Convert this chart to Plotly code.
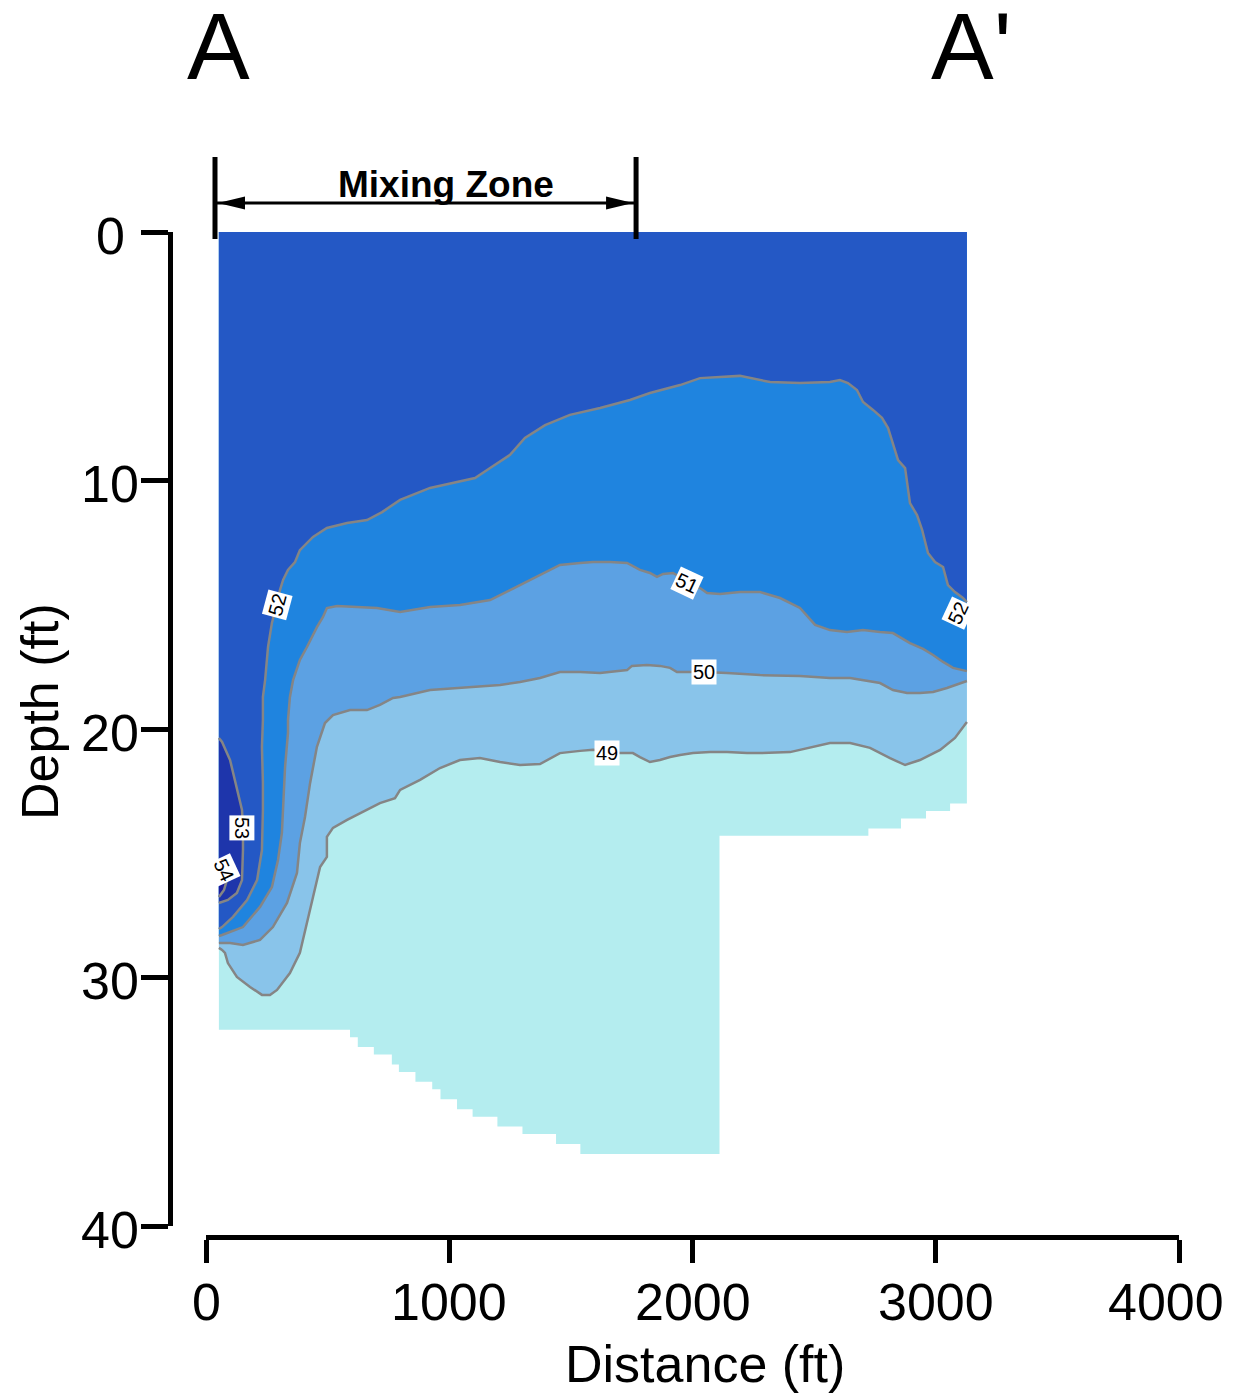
import plotly.graph_objects as go

# ---------------- data (distance ft, depth ft) ----------------
SECTION_LEFT = 53
SECTION_RIGHT = 3128

BOTTOM_X = [53, 592, 624, 690, 764, 793, 861, 930, 964, 1032, 1096, 1198, 1301, 1439, 1539,
            2111, 2723, 2857, 2960, 3059]
BOTTOM_DEPTH = [32.1, 32.4, 32.8, 33.1, 33.5, 33.8, 34.2, 34.5, 34.9, 35.3, 35.6, 36.0, 36.3, 36.7, 37.1,
                24.3, 24.0, 23.6, 23.3, 23.0]

C52_X = [53, 66, 111, 169, 210, 230, 234, 234, 230, 234, 234, 243, 255, 271, 292, 304, 317, 337, 366, 386,
         440, 497, 580, 662, 724, 798, 921, 1044, 1106, 1168, 1250, 1311, 1394, 1496, 1620, 1743, 1825,
         1949, 2031, 2195, 2319, 2442, 2565, 2606, 2639, 2676, 2701, 2742, 2779, 2804, 2824, 2845, 2874,
         2894, 2923, 2944, 2968, 2997, 3030, 3050, 3079, 3112, 3128]
C52_DEPTH = [28.05, 27.97, 27.56, 26.88, 26.08, 24.87, 23.26, 22.17, 20.72, 19.64, 18.71, 18.03, 16.70,
             15.73, 14.93, 14.41, 14.00, 13.60, 13.28, 12.80, 12.27, 11.91, 11.71, 11.59, 11.27, 10.78,
             10.30, 10.02, 9.90, 9.50, 8.97, 8.29, 7.77, 7.36, 7.08, 6.76, 6.48, 6.16, 5.88, 5.79, 6.04,
             6.08, 6.04, 5.96, 6.08, 6.36, 6.84, 7.16, 7.48, 7.89, 8.49, 9.18, 9.50, 10.91, 11.39, 11.99,
             12.92, 13.28, 13.48, 14.21, 14.49, 14.73, 14.89]

C51_X = [53, 66, 152, 222, 271, 296, 312, 317, 325, 337, 337, 345, 358, 386, 415, 456, 481, 497, 539,
         621, 703, 798, 921, 1044, 1168, 1250, 1332, 1455, 1538, 1591, 1661, 1731, 1784, 1825, 1854,
         1879, 1920, 1949, 1977, 2031, 2060, 2113, 2195, 2278, 2360, 2442, 2504, 2565, 2635, 2701,
         2771, 2824, 2894, 2948, 2989, 3030, 3071, 3112, 3128]
C51_DEPTH = [28.33, 28.29, 27.97, 27.16, 26.36, 25.27, 24.18, 22.86, 21.53, 20.16, 19.64, 18.71, 18.03,
             17.22, 16.70, 15.90, 15.49, 15.13, 15.05, 15.09, 15.13, 15.29, 15.09, 15.01, 14.81, 14.41,
             14.00, 13.40, 13.32, 13.28, 13.28, 13.32, 13.60, 13.72, 13.88, 13.76, 13.72, 13.88, 14.12,
             14.33, 14.53, 14.57, 14.49, 14.49, 14.73, 15.13, 15.81, 16.02, 16.10, 16.02, 16.10, 16.14,
             16.54, 16.78, 17.02, 17.30, 17.54, 17.63, 17.67]

C50_X = [53, 66, 99, 152, 222, 275, 333, 374, 386, 407, 428, 456, 489, 522, 592, 662, 715, 769, 798,
         921, 1044, 1126, 1209, 1291, 1373, 1455, 1538, 1620, 1731, 1751, 1813, 1866, 1908, 1936, 2047,
         2142, 2278, 2442, 2565, 2648, 2701, 2771, 2824, 2882, 2935, 2989, 3046, 3112, 3128]
C50_DEPTH = [28.61, 28.61, 28.61, 28.69, 28.49, 27.97, 27.00, 25.79, 24.59, 23.54, 22.17, 20.72, 19.76,
             19.44, 19.24, 19.24, 19.03, 18.75, 18.71, 18.43, 18.35, 18.27, 18.23, 18.11, 17.95, 17.71,
             17.71, 17.75, 17.63, 17.46, 17.42, 17.46, 17.54, 17.71, 17.71, 17.75, 17.83, 17.87, 17.95,
             17.95, 18.03, 18.15, 18.43, 18.55, 18.55, 18.51, 18.35, 18.11, 18.07]

C49_X = [53, 66, 78, 90, 127, 181, 230, 263, 292, 345, 386, 419, 440, 469, 497, 497, 522, 580, 662, 715,
         777, 798, 880, 962, 1044, 1126, 1209, 1291, 1373, 1455, 1538, 1591, 1702, 1755, 1784, 1825,
         1866, 1908, 1949, 2002, 2072, 2142, 2224, 2278, 2401, 2483, 2565, 2648, 2730, 2812, 2874, 2935,
         3018, 3079, 3128]
C49_DEPTH = [28.81, 28.89, 29.01, 29.42, 29.98, 30.38, 30.70, 30.70, 30.50, 29.82, 29.01, 27.69, 26.76,
             25.55, 25.15, 24.34, 23.98, 23.66, 23.26, 22.98, 22.78, 22.45, 22.05, 21.57, 21.25, 21.17,
             21.33, 21.45, 21.41, 20.97, 20.88, 20.84, 20.97, 20.97, 21.13, 21.33, 21.25, 21.13, 21.05,
             20.97, 20.93, 20.93, 20.97, 20.97, 20.93, 20.76, 20.56, 20.56, 20.76, 21.17, 21.45, 21.25,
             20.84, 20.36, 19.72]

C53_X = [53, 66, 99, 127, 148, 152, 152, 148, 127, 90, 66, 53]
C53_DEPTH = [20.36, 20.52, 21.25, 22.33, 23.26, 23.98, 24.87, 26.08, 26.60, 26.88, 26.96, 27.00]

C54_X = [53, 74, 86, 74, 53]
C54_DEPTH = [25.35, 25.67, 26.08, 26.48, 26.76]

LABEL_TEXT = ["52", "51", "52", "50", "49", "53", "54"]
LABEL_X = [292, 1977, 3092, 2047, 1648, 148, 74]
LABEL_DEPTH = [15.0, 14.12, 15.33, 17.71, 20.97, 23.98, 25.67]
LABEL_ANGLE = [-75, 25, -65, 0, 0, 90, 65]

MIXING_ZONE = [37, 1768]
X_TICKS = [0, 1000, 2000, 3000, 4000]
Y_TICKS = [0, 10, 20, 30, 40]

# ---------------- style ----------------
COL_BELOW49 = "#B4EDEF"
COL_49 = "#89C4EA"
COL_50 = "#5CA1E3"
COL_51 = "#1F84DF"
COL_52 = "#2458C5"
COL_53 = "#1E35AB"
COL_54 = "#1A1C9C"
LINE_COL = "#858585"
FONT = "Liberation Sans, Arial, sans-serif"
BIG = 52

OFF = 8                     # page body margin
W, H = 1235 - OFF, 1398 - OFF


def px(x):
    """window pixel x -> paper fraction"""
    return (x - OFF) / W


def py(y):
    """window pixel y -> paper fraction"""
    return 1 - (y - OFF) / H


fig = go.Figure()

# section outline (bathymetry) filled with coldest colour
sx, sy = [SECTION_LEFT], [0]
for i, (bx, bd) in enumerate(zip(BOTTOM_X, BOTTOM_DEPTH)):
    nx = BOTTOM_X[i + 1] if i + 1 < len(BOTTOM_X) else SECTION_RIGHT
    sx += [bx, nx]
    sy += [bd, bd]
sx += [SECTION_RIGHT]
sy += [0]
fig.add_trace(go.Scatter(x=sx, y=sy, fill="toself", fillcolor=COL_BELOW49, mode="lines",
                         line=dict(width=0, color=COL_BELOW49), hoverinfo="skip", showlegend=False))

for cx, cd, col in [(C49_X, C49_DEPTH, COL_49), (C50_X, C50_DEPTH, COL_50),
                    (C51_X, C51_DEPTH, COL_51), (C52_X, C52_DEPTH, COL_52)]:
    fig.add_trace(go.Scatter(x=[SECTION_LEFT] + cx + [SECTION_RIGHT], y=[0] + cd + [0],
                             fill="toself", fillcolor=col, mode="lines",
                             line=dict(width=0, color=col), hoverinfo="skip", showlegend=False))
for cx, cd, col in [(C53_X, C53_DEPTH, COL_53), (C54_X, C54_DEPTH, COL_54)]:
    fig.add_trace(go.Scatter(x=cx, y=cd, fill="toself", fillcolor=col, mode="lines",
                             line=dict(width=0, color=col), hoverinfo="skip", showlegend=False))

for cx, cd in [(C49_X, C49_DEPTH), (C50_X, C50_DEPTH), (C51_X, C51_DEPTH), (C52_X, C52_DEPTH),
               (C53_X, C53_DEPTH), (C54_X, C54_DEPTH)]:
    fig.add_trace(go.Scatter(x=cx, y=cd, mode="lines", line=dict(color=LINE_COL, width=2.5),
                             hoverinfo="skip", showlegend=False))

annotations = []
for t, lx, ld, ang in zip(LABEL_TEXT, LABEL_X, LABEL_DEPTH, LABEL_ANGLE):
    annotations.append(dict(x=lx, y=ld, xref="x", yref="y", text=t, showarrow=False, textangle=ang,
                            font=dict(family=FONT, size=20, color="black"), bgcolor="white",
                            borderpad=1))

# y tick labels (centred)
for v in Y_TICKS:
    annotations.append(dict(x=px(110), y=v, xref="paper", yref="y", text=str(v), showarrow=False,
                            xanchor="center", yanchor="middle", yshift=-4,
                            font=dict(family=FONT, size=BIG, color="black")))
# x tick labels (last one kept inside the page)
for v in X_TICKS:
    annotations.append(dict(x=v, y=py(1302), xref="x", yref="paper", text=str(v), showarrow=False,
                            xanchor="center" if v != X_TICKS[-1] else "right",
                            xshift=0 if v != X_TICKS[-1] else 47,
                            yanchor="middle", font=dict(family=FONT, size=BIG, color="black")))

annotations += [
    dict(x=px(705), y=py(1364), xref="paper", yref="paper", text="Distance (ft)", showarrow=False,
         xanchor="center", yanchor="middle", font=dict(family=FONT, size=BIG, color="black")),
    dict(x=px(40), y=py(712), xref="paper", yref="paper", text="Depth (ft)", showarrow=False,
         textangle=-90, xanchor="center", yanchor="middle", font=dict(family=FONT, size=BIG, color="black")),
    dict(x=px(219), y=py(47), xref="paper", yref="paper", text="A", showarrow=False,
         xanchor="center", yanchor="middle", font=dict(family=FONT, size=94, color="black")),
    dict(x=px(971), y=py(47), xref="paper", yref="paper", text="A'", showarrow=False,
         xanchor="center", yanchor="middle", font=dict(family=FONT, size=94, color="black")),
    dict(x=px(446), y=py(184), xref="paper", yref="paper", text="<b>Mixing Zone</b>",
         showarrow=False, xanchor="center", yanchor="middle", font=dict(family=FONT, size=37, color="black")),
]

arrow_y = py(203)
shapes = []
for mx in MIXING_ZONE:
    shapes.append(dict(type="line", xref="x", yref="paper", x0=mx, x1=mx, y0=py(157), y1=py(239),
                       line=dict(color="black", width=5)))
shapes.append(dict(type="line", xref="x", yref="paper", x0=MIXING_ZONE[0], x1=MIXING_ZONE[1],
                   y0=arrow_y, y1=arrow_y, line=dict(color="black", width=3)))
shapes.append(dict(type="path", xref="x", yref="paper", xsizemode="pixel", ysizemode="pixel",
                   xanchor=MIXING_ZONE[0], yanchor=arrow_y, path="M3,0 L30,6.5 L30,-6.5 Z",
                   fillcolor="black", line=dict(width=0)))
shapes.append(dict(type="path", xref="x", yref="paper", xsizemode="pixel", ysizemode="pixel",
                   xanchor=MIXING_ZONE[1], yanchor=arrow_y, path="M-3,0 L-30,6.5 L-30,-6.5 Z",
                   fillcolor="black", line=dict(width=0)))

fig.update_layout(
    width=W, height=H, margin=dict(l=0, r=0, t=0, b=0, autoexpand=False),
    paper_bgcolor="white", plot_bgcolor="white", showlegend=False,
    annotations=annotations, shapes=shapes,
    xaxis=dict(range=[0, 4000], domain=[px(206), px(1179)], anchor="free", position=py(1237),
               automargin=False,
               showgrid=False, zeroline=False, showline=True, linecolor="black", linewidth=4.5,
               ticks="outside", ticklen=23, tickwidth=4.5, tickcolor="black", tickvals=X_TICKS,
               showticklabels=False),
    yaxis=dict(range=[40, 0], domain=[py(1226), py(232)], anchor="free", position=px(170),
               automargin=False,
               showgrid=False, zeroline=False, showline=True, linecolor="black", linewidth=4.5,
               ticks="outside", ticklen=27, tickwidth=4.5, tickcolor="black", tickvals=Y_TICKS,
               showticklabels=False),
)

fig.write_html("out.html")
